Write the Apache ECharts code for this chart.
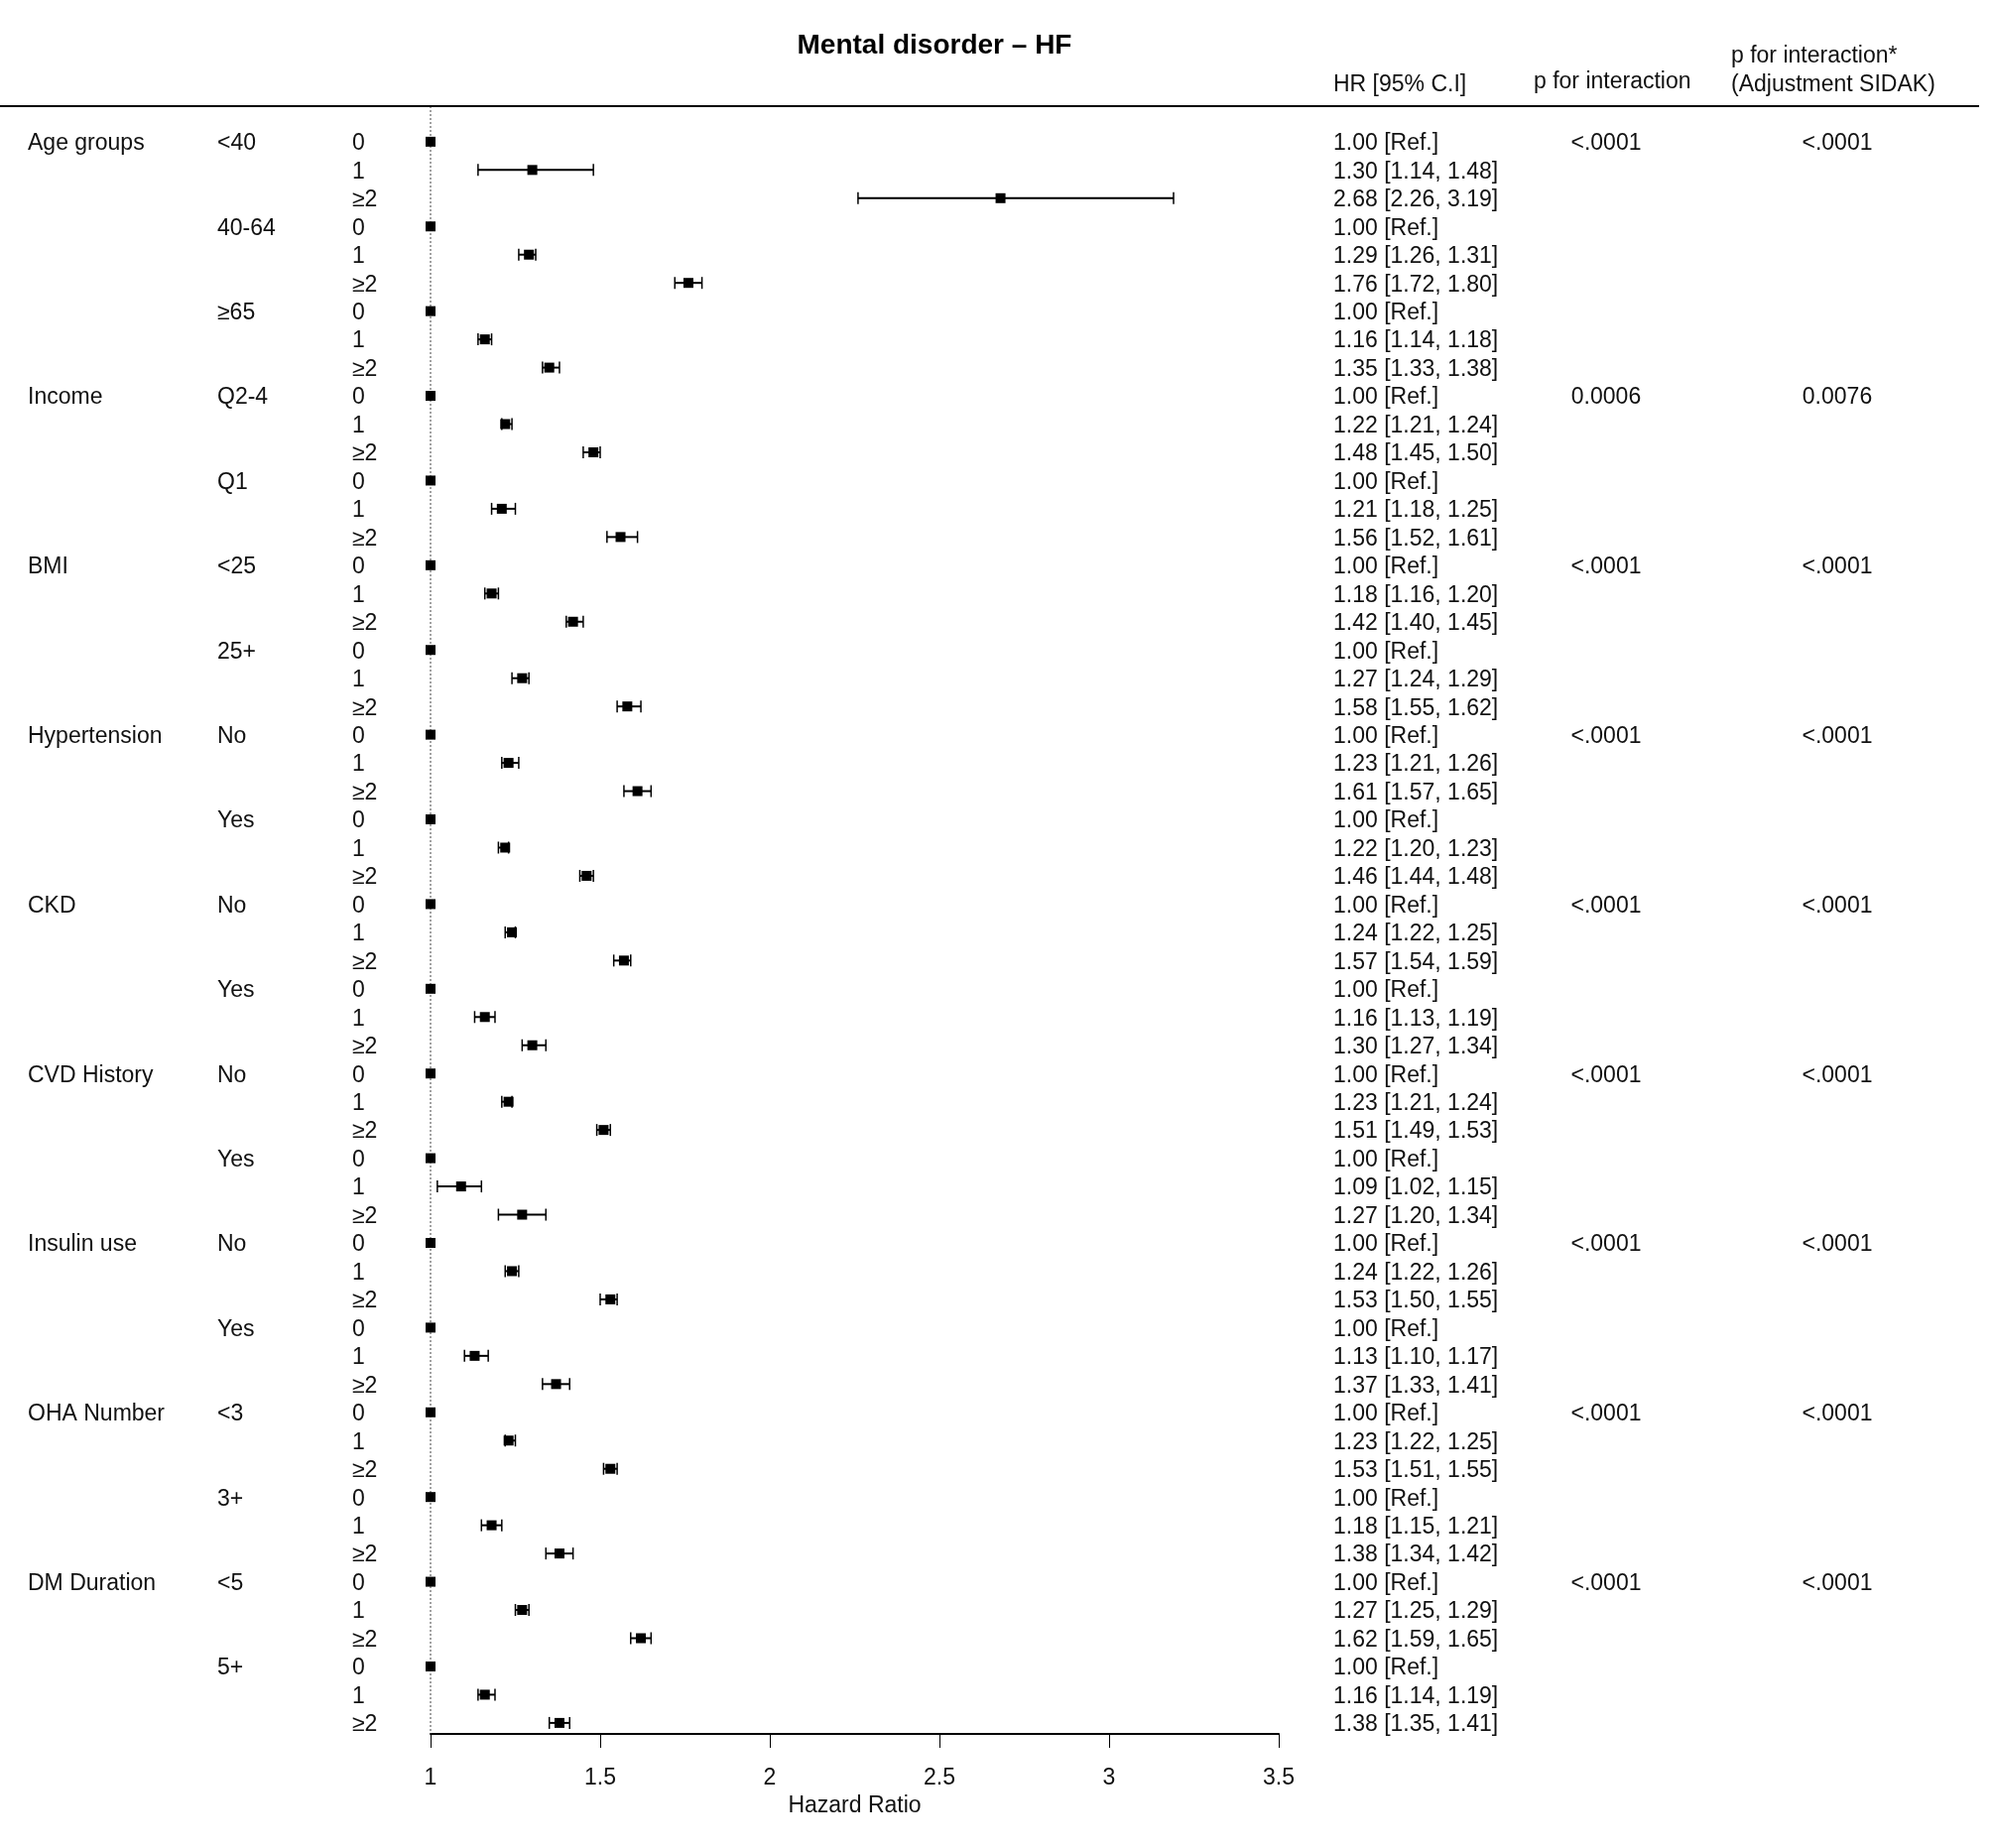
<!DOCTYPE html>
<html>
<head>
<meta charset="utf-8">
<script src="https://cdn.jsdelivr.net/npm/echarts@6/dist/echarts.min.js"></script>
<style>
  html, body { margin: 0; padding: 0; background: #fff; }
  #chart { width: 2008px; height: 1863px; }
</style>
</head>
<body>
<div id="chart"></div>
<script>
// ---------------- DATA ----------------
const groups = ["Age groups", "Income", "BMI", "Hypertension", "CKD", "CVD History", "Insulin use", "OHA Number", "DM Duration"];
const subgroups = [
  ["<40", "40-64", "≥65"],
  ["Q2-4", "Q1"],
  ["<25", "25+"],
  ["No", "Yes"],
  ["No", "Yes"],
  ["No", "Yes"],
  ["No", "Yes"],
  ["<3", "3+"],
  ["<5", "5+"]
];
const levels = ["0", "1", "≥2"];
const hr = [
  1.00, 1.30, 2.68,  1.00, 1.29, 1.76,  1.00, 1.16, 1.35,
  1.00, 1.22, 1.48,  1.00, 1.21, 1.56,
  1.00, 1.18, 1.42,  1.00, 1.27, 1.58,
  1.00, 1.23, 1.61,  1.00, 1.22, 1.46,
  1.00, 1.24, 1.57,  1.00, 1.16, 1.30,
  1.00, 1.23, 1.51,  1.00, 1.09, 1.27,
  1.00, 1.24, 1.53,  1.00, 1.13, 1.37,
  1.00, 1.23, 1.53,  1.00, 1.18, 1.38,
  1.00, 1.27, 1.62,  1.00, 1.16, 1.38
];
const lower = [
  null, 1.14, 2.26,  null, 1.26, 1.72,  null, 1.14, 1.33,
  null, 1.21, 1.45,  null, 1.18, 1.52,
  null, 1.16, 1.40,  null, 1.24, 1.55,
  null, 1.21, 1.57,  null, 1.20, 1.44,
  null, 1.22, 1.54,  null, 1.13, 1.27,
  null, 1.21, 1.49,  null, 1.02, 1.20,
  null, 1.22, 1.50,  null, 1.10, 1.33,
  null, 1.22, 1.51,  null, 1.15, 1.34,
  null, 1.25, 1.59,  null, 1.14, 1.35
];
const upper = [
  null, 1.48, 3.19,  null, 1.31, 1.80,  null, 1.18, 1.38,
  null, 1.24, 1.50,  null, 1.25, 1.61,
  null, 1.20, 1.45,  null, 1.29, 1.62,
  null, 1.26, 1.65,  null, 1.23, 1.48,
  null, 1.25, 1.59,  null, 1.19, 1.34,
  null, 1.24, 1.53,  null, 1.15, 1.34,
  null, 1.26, 1.55,  null, 1.17, 1.41,
  null, 1.25, 1.55,  null, 1.21, 1.42,
  null, 1.29, 1.65,  null, 1.19, 1.41
];
const pInteraction = ["<.0001", "0.0006", "<.0001", "<.0001", "<.0001", "<.0001", "<.0001", "<.0001", "<.0001"];
const pSidak       = ["<.0001", "0.0076", "<.0001", "<.0001", "<.0001", "<.0001", "<.0001", "<.0001", "<.0001"];
const xTicks = [1, 1.5, 2, 2.5, 3, 3.5];

// ---------------- BUILD ROWS ----------------
const rows = [];
let k = 0;
groups.forEach((g, gi) => {
  subgroups[gi].forEach((s, si) => {
    levels.forEach((l, li) => {
      rows.push({
        idx: k,
        group: (si === 0 && li === 0) ? g : "",
        sub: li === 0 ? s : "",
        level: l,
        hr: hr[k], lo: lower[k], hi: upper[k],
        p1: (si === 0 && li === 0) ? pInteraction[gi] : "",
        p2: (si === 0 && li === 0) ? pSidak[gi] : ""
      });
      k++;
    });
  });
});
const nRows = rows.length;

const FAMILY = '"Liberation Sans", Arial, Helvetica, sans-serif';
const FONT = '23px ' + FAMILY;
const TXT = '#111';

// column x positions (pixels)
const COL_GROUP = 28, COL_SUB = 219, COL_LEVEL = 355, COL_HR = 1344, COL_P1 = 1619, COL_P2 = 1852;

function hrText(r) {
  if (r.lo == null) return r.hr.toFixed(2) + " [Ref.]";
  return r.hr.toFixed(2) + " [" + r.lo.toFixed(2) + ", " + r.hi.toFixed(2) + "]";
}

const chart = echarts.init(document.getElementById('chart'), null, { renderer: 'canvas' });

const option = {
  backgroundColor: '#fff',
  animation: false,
  title: {
    text: 'Mental disorder – HF',
    left: 937, top: 27,
    textAlign: 'center',
    textStyle: { fontFamily: FAMILY, fontSize: 28, fontWeight: 'bold', color: '#000' }
  },
  grid: { left: 434, right: 719, top: 107, bottom: 115, containLabel: false },
  xAxis: {
    type: 'value',
    min: xTicks[0], max: xTicks[xTicks.length - 1], interval: 0.5,
    splitLine: { show: false },
    axisLine: { show: true, onZero: false, lineStyle: { color: '#000', width: 2 } },
    axisTick: { show: true, length: 14, lineStyle: { color: '#000', width: 1 } },
    axisLabel: { margin: 33, fontSize: 23, color: TXT, fontFamily: FAMILY,
                 formatter: v => String(v) },
    name: 'Hazard Ratio', nameLocation: 'middle', nameGap: 60,
    nameTextStyle: { fontSize: 23, color: TXT, fontFamily: FAMILY }
  },
  yAxis: {
    type: 'value', inverse: true, min: -1.26, max: nRows - 1 + 0.39,
    show: false
  },
  graphic: [
    { type: 'line', shape: { x1: 0, y1: 107, x2: 1995, y2: 107 }, style: { stroke: '#000', lineWidth: 2 }, z: 10 },
    { type: 'text', left: COL_HR, top: 74, style: { text: 'HR [95% C.I]', font: FONT, fill: TXT } },
    { type: 'text', left: 1546, top: 71, style: { text: 'p for interaction', font: FONT, fill: TXT } },
    { type: 'text', left: 1745, top: 45, style: { text: 'p for interaction*', font: FONT, fill: TXT } },
    { type: 'text', left: 1745, top: 74, style: { text: '(Adjustment SIDAK)', font: FONT, fill: TXT } }
  ],
  series: [
    {
      // reference dotted line at HR = 1
      type: 'line',
      data: [[1, -1.26], [1, nRows - 1 + 0.39]],
      symbol: 'none',
      lineStyle: { color: '#444', width: 1, type: [2, 2] },
      silent: true, z: 1
    },
    {
      // forest marks: CI bars + boxes
      type: 'custom',
      data: rows.map(r => [r.hr, r.idx]),
      encode: { x: 0, y: 1 },
      z: 5,
      renderItem: function (params, api) {
        const r = rows[params.dataIndex];
        const c = api.coord([api.value(0), api.value(1)]);
        const children = [];
        if (r.lo != null) {
          const a = api.coord([r.lo, r.idx]);
          const b = api.coord([r.hi, r.idx]);
          children.push({ type: 'line', shape: { x1: a[0], y1: a[1], x2: b[0], y2: b[1] }, style: { stroke: '#000', lineWidth: 2 } });
          children.push({ type: 'line', shape: { x1: a[0], y1: a[1] - 6, x2: a[0], y2: a[1] + 6 }, style: { stroke: '#000', lineWidth: 1.5 } });
          children.push({ type: 'line', shape: { x1: b[0], y1: b[1] - 6, x2: b[0], y2: b[1] + 6 }, style: { stroke: '#000', lineWidth: 1.5 } });
        }
        children.push({ type: 'rect', shape: { x: c[0] - 5, y: c[1] - 5, width: 10, height: 10 }, style: { fill: '#000' } });
        return { type: 'group', children: children };
      }
    },
    {
      // table text, rows placed through the y scale
      type: 'custom',
      data: rows.map(r => [1, r.idx]),
      encode: { x: 0, y: 1 },
      clip: false,
      z: 6,
      renderItem: function (params, api) {
        const r = rows[params.dataIndex];
        const y = api.coord([1, api.value(1)])[1] + 2;
        const t = (text, x, align) => ({ type: 'text', style: { text: text, x: x, y: y, font: FONT, fill: TXT, align: align || 'left', verticalAlign: 'middle' } });
        const ch = [];
        if (r.group) ch.push(t(r.group, COL_GROUP));
        if (r.sub) ch.push(t(r.sub, COL_SUB));
        ch.push(t(r.level, COL_LEVEL));
        ch.push(t(hrText(r), COL_HR));
        if (r.p1) ch.push(t(r.p1, COL_P1, 'center'));
        if (r.p2) ch.push(t(r.p2, COL_P2, 'center'));
        return { type: 'group', children: ch };
      }
    }
  ]
};
chart.setOption(option);
</script>
</body>
</html>
